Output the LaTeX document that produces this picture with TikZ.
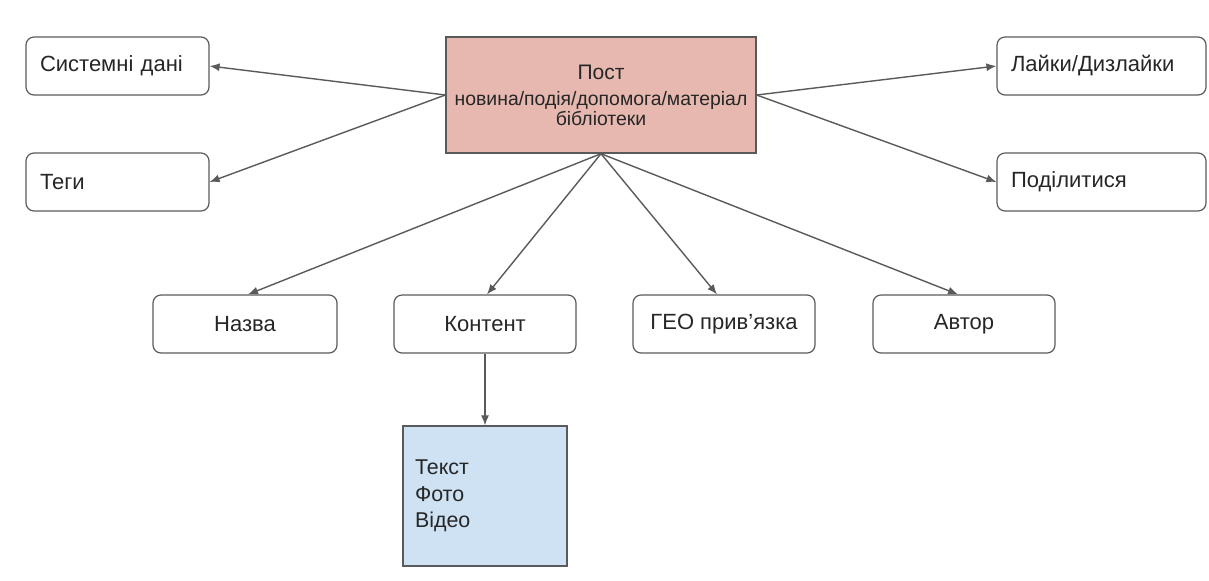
\documentclass[tikz,border=0pt]{standalone}
\usepackage{fontspec}
\setmainfont{Liberation Sans}
\usetikzlibrary{arrows.meta}
\definecolor{postred}{HTML}{E6B8AF}
\definecolor{mediablue}{HTML}{CFE2F3}
\definecolor{edgegray}{HTML}{5A5A5A}

\begin{document}
\begin{tikzpicture}[x=0.5pt,y=-0.5pt,
    font=\fontsize{11}{13}\selectfont, text=black!85,
    box/.style={draw=edgegray, line width=0.6pt, rounded corners=4pt,
        minimum width=91pt, minimum height=29pt},
    sidebox/.style={box, align=left, inner xsep=7pt, text width=#1},
    arr/.style={draw=edgegray, line width=0.7pt, -{Latex[length=5pt,width=4pt]}}]
    \useasboundingbox (0,0) rectangle (1209,580);

    % the post itself
    \node [draw=edgegray, fill=postred, line width=0.7pt, minimum width=155pt,
        minimum height=58pt, align=center, font=\fontsize{9.7}{10}\selectfont]
        (post) at (601,95)
        {{\fontsize{10.5}{12}\selectfont Пост}\\[3pt]новина/подія/допомога/матеріал\\бібліотеки};

    % side boxes
    \node [sidebox=77.5pt] (sys)   at (117.5,66)  {Системні дані};
    \node [sidebox=77.5pt] (tags)  at (117.5,182) {Теги};
    \node [sidebox=90.5pt] (likes) at (1101.5,66)  {Лайки/Дизлайки};
    \node [sidebox=90.5pt] (share) at (1101.5,182) {Поділитися};

    % bottom row
    \node [box, minimum width=92pt] (name)    at (245,324) {Назва};
    \node [box] (content) at (485,324) {Контент};
    \node [box] (geo)     at (724,324) {ГЕО прив'язка};
    \node [box] (author)  at (964,324) {Автор};

    % content types
    \node [draw=edgegray, fill=mediablue, line width=0.6pt, minimum height=70pt,
        text width=70pt, inner xsep=6pt, align=left,
        font=\fontsize{10.7}{13.25}\selectfont]
        (media) at (485,496) {Текст\\Фото\\Відео};

    \draw [arr] (post.west) -- (sys.east);          % to system data
    \draw [arr] (post.west) -- (tags.east);         % to tags
    \draw [arr] (post.east) -- (likes.west);        % to likes
    \draw [arr] (post.east) -- (share.west);        % to share

    \draw [arr] (post.south) -- ([xshift=1.5pt]name.north);
    \draw [arr] (post.south) -- ([xshift=1pt]content.north);
    \draw [arr] (post.south) -- ([xshift=-3.5pt]geo.north);
    \draw [arr] (post.south) -- ([xshift=-3pt]author.north);

    \draw [arr] (content.south) -- (media.north);   % content to its types
\end{tikzpicture}
\end{document}
